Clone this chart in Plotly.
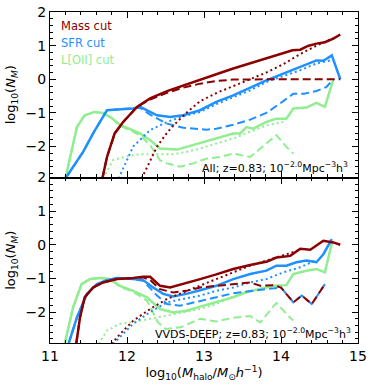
import plotly.graph_objects as go
from plotly.subplots import make_subplots

RED = "#8b0000"
BLUE = "#1e90ff"
GREEN = "#90ee90"

# ---- top panel: All ----
all_mass_solid_x = [11.68, 11.74, 11.84, 11.95, 12.13, 12.30, 12.52, 12.73, 12.95, 13.16, 13.38, 13.60, 13.81, 13.94, 14.03, 14.15, 14.25, 14.35, 14.46, 14.57, 14.68, 14.77]
all_mass_solid_y = [-2.95, -2.31, -1.61, -1.27, -0.82, -0.57, -0.35, -0.18, 0.0, 0.15, 0.32, 0.47, 0.61, 0.70, 0.76, 0.86, 0.88, 0.99, 1.06, 1.10, 1.21, 1.33]
all_mass_dash_x = [11.68, 11.74, 11.84, 11.95, 12.13, 12.30, 12.52, 12.73, 12.95, 13.16, 13.38, 13.55, 13.81, 14.03, 14.25, 14.46, 14.68, 14.77]
all_mass_dash_y = [-2.95, -2.31, -1.61, -1.27, -0.82, -0.60, -0.40, -0.25, -0.13, -0.05, -0.01, 0.0, 0.0, 0.0, 0.0, -0.02, 0.0, 0.0]
all_mass_dot_x = [12.19, 12.30, 12.39, 12.50, 12.60, 12.77, 12.95, 13.17, 13.38, 13.60, 13.82, 14.03, 14.25, 14.46, 14.68]
all_mass_dot_y = [-2.95, -2.45, -2.0, -1.65, -1.38, -1.0, -0.65, -0.40, -0.21, 0.0, 0.21, 0.45, 0.75, 1.0, 1.22]

all_sfr_solid_x = [11.20, 11.43, 11.56, 11.65, 11.74, 11.87, 12.08, 12.17, 12.26, 12.39, 12.56, 12.73, 12.95, 13.16, 13.38, 13.60, 13.81, 14.03, 14.25, 14.46, 14.55, 14.66, 14.77]
all_sfr_solid_y = [-2.95, -2.16, -1.61, -1.27, -0.92, -0.90, -0.87, -0.82, -0.92, -1.07, -1.12, -1.07, -0.92, -0.67, -0.48, -0.25, -0.03, 0.17, 0.37, 0.56, 0.55, 0.71, 0.0]
all_sfr_dash_x = [11.20, 11.43, 11.56, 11.65, 11.74, 11.87, 12.08, 12.17, 12.30, 12.52, 12.73, 12.95, 13.03, 13.16, 13.38, 13.60, 13.81, 14.03, 14.16, 14.30, 14.46, 14.59, 14.68]
all_sfr_dash_y = [-2.95, -2.16, -1.61, -1.27, -0.92, -0.90, -0.87, -0.85, -1.05, -1.32, -1.44, -1.47, -1.50, -1.47, -1.35, -1.20, -1.00, -0.65, -0.43, -0.43, -0.35, -0.23, 0.0]
all_sfr_dot_x = [11.89, 12.0, 12.08, 12.30, 12.52, 12.73, 12.95, 13.16, 13.38, 13.60, 13.81, 14.03, 14.25, 14.46, 14.64]
all_sfr_dot_y = [-2.95, -2.4, -2.0, -1.51, -1.27, -1.10, -0.97, -0.74, -0.54, -0.33, -0.08, 0.09, 0.27, 0.47, 0.56]

all_oii_solid_x = [11.20, 11.35, 11.45, 11.58, 11.69, 11.80, 11.91, 12.05, 12.17, 12.30, 12.43, 12.65, 12.77, 12.95, 13.16, 13.38, 13.47, 13.55, 13.64, 13.81, 13.94, 14.07, 14.16, 14.33, 14.46, 14.57, 14.68]
all_oii_solid_y = [-2.95, -1.42, -1.07, -0.97, -1.0, -1.15, -1.36, -1.50, -1.61, -1.81, -2.06, -2.09, -2.01, -1.91, -1.76, -1.61, -1.61, -1.42, -1.47, -1.27, -1.17, -1.17, -0.87, -0.84, -0.70, -0.82, 0.0]
all_oii_dash_x = [11.20, 11.35, 11.45, 11.58, 11.69, 11.80, 11.91, 12.05, 12.17, 12.30, 12.43, 12.52, 12.69, 12.86, 13.03, 13.21, 13.38, 13.60, 13.81, 13.94, 14.07, 14.16]
all_oii_dash_y = [-2.95, -1.42, -1.07, -0.97, -1.0, -1.15, -1.38, -1.52, -1.66, -1.96, -2.41, -2.50, -2.60, -2.50, -2.36, -2.31, -2.21, -2.31, -1.91, -1.66, -2.01, -2.21]
all_oii_dot_x = [11.69, 11.82, 12.0, 12.17, 12.39, 12.60, 12.77, 12.95, 13.16, 13.38, 13.60, 13.81, 14.03]
all_oii_dot_y = [-2.95, -2.40, -2.29, -2.23, -2.23, -2.23, -2.16, -2.06, -1.91, -1.76, -1.56, -1.37, -1.27]

# ---- bottom panel: VVDS-DEEP ----
vvds_mass_solid_x = [11.34, 11.39, 11.45, 11.56, 11.69, 11.87, 12.08, 12.21, 12.30, 12.43, 12.56, 12.73, 12.95, 13.16, 13.38, 13.60, 13.82, 13.94, 14.12, 14.25, 14.38, 14.55, 14.68, 14.77]
vvds_mass_solid_y = [-2.95, -2.16, -1.56, -1.27, -1.12, -1.02, -0.99, -0.95, -0.95, -1.22, -1.27, -1.17, -1.02, -0.88, -0.72, -0.60, -0.50, -0.38, -0.33, -0.12, -0.15, 0.12, 0.07, 0.0]
vvds_mass_dash_x = [11.34, 11.39, 11.45, 11.56, 11.69, 11.87, 12.08, 12.21, 12.30, 12.43, 12.60, 12.77, 12.95, 13.16, 13.38, 13.60, 13.73, 13.90, 14.00, 14.16, 14.27, 14.40, 14.57]
vvds_mass_dash_y = [-2.95, -2.16, -1.56, -1.27, -1.12, -1.02, -0.99, -0.97, -1.05, -1.32, -1.42, -1.37, -1.27, -1.22, -1.17, -1.12, -1.22, -1.20, -1.27, -1.71, -1.51, -1.76, -1.17]
vvds_mass_dot_x = [11.80, 11.91, 12.08, 12.30, 12.52, 12.73, 12.95, 13.16, 13.38, 13.60, 13.81, 14.03, 14.25]
vvds_mass_dot_y = [-2.95, -2.65, -2.26, -1.91, -1.61, -1.41, -1.22, -1.02, -0.82, -0.62, -0.47, -0.30, -0.15]

vvds_sfr_solid_x = [11.24, 11.35, 11.48, 11.61, 11.74, 11.87, 12.08, 12.21, 12.34, 12.47, 12.60, 12.77, 12.95, 13.16, 13.38, 13.60, 13.81, 13.94, 14.07, 14.20, 14.33, 14.46, 14.55, 14.66]
vvds_sfr_solid_y = [-2.95, -2.16, -1.46, -1.17, -1.05, -0.99, -1.02, -1.05, -1.27, -1.46, -1.54, -1.46, -1.35, -1.22, -1.02, -0.87, -0.77, -0.62, -0.62, -0.52, -0.47, -0.52, -0.28, 0.17]
vvds_sfr_dash_x = [11.24, 11.35, 11.48, 11.61, 11.74, 11.87, 12.08, 12.21, 12.39, 12.52, 12.69, 12.95, 13.16, 13.38, 13.60, 13.81, 14.00, 14.16, 14.27, 14.40, 14.57]
vvds_sfr_dash_y = [-2.95, -2.16, -1.46, -1.17, -1.05, -0.99, -1.02, -1.07, -1.51, -1.76, -1.81, -1.66, -1.56, -1.44, -1.37, -1.32, -1.27, -1.71, -1.51, -1.76, -1.17]
vvds_sfr_dot_x = [11.82, 11.95, 12.08, 12.30, 12.52, 12.73, 12.95, 13.16, 13.38, 13.60, 13.81, 14.03, 14.25, 14.46]
vvds_sfr_dot_y = [-2.95, -2.65, -2.35, -2.0, -1.71, -1.61, -1.51, -1.37, -1.27, -1.12, -1.02, -0.82, -0.67, -0.45]

vvds_oii_solid_x = [11.19, 11.30, 11.41, 11.52, 11.65, 11.78, 11.91, 12.08, 12.26, 12.43, 12.60, 12.77, 12.95, 13.16, 13.38, 13.55, 13.73, 13.90, 14.07, 14.16, 14.33, 14.46, 14.57, 14.66]
vvds_oii_solid_y = [-2.95, -1.86, -1.17, -1.02, -0.99, -1.02, -1.22, -1.37, -1.56, -1.91, -2.01, -1.96, -1.84, -1.71, -1.56, -1.41, -1.32, -1.22, -1.20, -0.87, -0.77, -0.72, -0.82, 0.05]
vvds_oii_dash_x = [11.19, 11.30, 11.41, 11.52, 11.65, 11.78, 11.91, 12.08, 12.26, 12.40, 12.50, 12.70, 12.95, 13.16, 13.38, 13.60, 13.73, 13.94, 14.12, 14.16]
vvds_oii_dash_y = [-2.95, -1.86, -1.17, -1.02, -0.99, -1.02, -1.25, -1.40, -1.66, -2.30, -2.50, -2.45, -2.20, -2.28, -2.17, -2.12, -2.31, -1.73, -2.17, -2.25]
vvds_oii_dot_x = [11.63, 11.74, 11.91, 12.08, 12.30, 12.52, 12.73, 12.95, 13.16, 13.38, 13.60, 13.81, 13.98]
vvds_oii_dot_y = [-2.95, -2.55, -2.35, -2.30, -2.20, -2.10, -2.01, -1.91, -1.76, -1.54, -1.37, -1.27, -1.22]

labels = ["Mass cut", "SFR cut", "L[OII] cut"]
colors = [RED, BLUE, GREEN]

panels = [
    [
        (all_mass_solid_x, all_mass_solid_y, all_mass_dash_x, all_mass_dash_y, all_mass_dot_x, all_mass_dot_y),
        (all_sfr_solid_x, all_sfr_solid_y, all_sfr_dash_x, all_sfr_dash_y, all_sfr_dot_x, all_sfr_dot_y),
        (all_oii_solid_x, all_oii_solid_y, all_oii_dash_x, all_oii_dash_y, all_oii_dot_x, all_oii_dot_y),
    ],
    [
        (vvds_mass_solid_x, vvds_mass_solid_y, vvds_mass_dash_x, vvds_mass_dash_y, vvds_mass_dot_x, vvds_mass_dot_y),
        (vvds_sfr_solid_x, vvds_sfr_solid_y, vvds_sfr_dash_x, vvds_sfr_dash_y, vvds_sfr_dot_x, vvds_sfr_dot_y),
        (vvds_oii_solid_x, vvds_oii_solid_y, vvds_oii_dash_x, vvds_oii_dash_y, vvds_oii_dot_x, vvds_oii_dot_y),
    ],
]

fig = make_subplots(rows=2, cols=1, shared_xaxes=True, vertical_spacing=0)

for row, panel in enumerate(panels, start=1):
    # green drawn first, red last
    for (sx, sy, dx, dy, ox, oy), col in reversed(list(zip(panel, colors))):
        fig.add_trace(go.Scatter(x=ox, y=oy, mode="lines", line=dict(color=col, width=2, dash="2px,3px"), showlegend=False), row=row, col=1)
        fig.add_trace(go.Scatter(x=dx, y=dy, mode="lines", line=dict(color=col, width=2, dash="8px,4px"), showlegend=False), row=row, col=1)
        fig.add_trace(go.Scatter(x=sx, y=sy, mode="lines", line=dict(color=col, width=2.5), showlegend=False), row=row, col=1)

axis_common = dict(
    showline=True, linecolor="black", linewidth=1.2, mirror="allticks",
    ticks="inside", ticklen=6, tickwidth=1.2, tickcolor="black",
    showgrid=False, zeroline=False, automargin=False, ticklabeloverflow="allow",
    tickfont=dict(family="DejaVu Sans", size=14, color="black"),
    minor=dict(ticks="inside", ticklen=3, tickwidth=1, tickcolor="black", dtick=0.2, showgrid=False),
)
fig.update_xaxes(**axis_common, range=[11, 15], tickvals=[11, 12, 13, 14, 15])
fig.update_yaxes(**axis_common, range=[-2.92, 2], tickvals=[-2, -1, 0, 1, 2],
                 ticktext=["\u22122", "\u22121", "0", "1", "2"])
ytitle = "log<sub>10</sub>(<i>N<sub>M</sub></i>)"
fig.update_yaxes(title=dict(text=ytitle, font=dict(family="DejaVu Sans", size=13, color="black"), standoff=6))
fig.update_xaxes(title=dict(text="log<sub>10</sub>(<i>M</i><sub>halo</sub>/<i>M</i><sub>\u2299</sub><i>h</i><sup>\u22121</sup>)",
                            font=dict(family="DejaVu Sans", size=13, color="black"), standoff=4), row=2, col=1)

for lab, col, yy in zip(labels, colors, [0.915, 0.811, 0.707]):
    fig.add_annotation(x=0.03, y=yy, xref="x domain", yref="y domain", text=lab, showarrow=False,
                       xanchor="left", yanchor="middle", font=dict(family="DejaVu Sans", size=11.5, color=col))

fig.add_annotation(x=0.975, y=0.06, xref="x domain", yref="y domain",
                   text="All; z=0.83; 10<sup>\u22122.0</sup>Mpc<sup>\u22123</sup>h<sup>3</sup>",
                   showarrow=False, xanchor="right", yanchor="middle",
                   font=dict(family="DejaVu Sans", size=11, color="black"))
fig.add_annotation(x=0.985, y=0.06, xref="x2 domain", yref="y2 domain",
                   text="VVDS-DEEP; z=0.83; 10<sup>\u22122.0</sup>Mpc<sup>\u22123</sup>h<sup>3</sup>",
                   showarrow=False, xanchor="right", yanchor="middle",
                   font=dict(family="DejaVu Sans", size=11, color="black"))

fig.update_layout(
    width=374, height=387,
    margin=dict(l=50, r=16, t=12, b=44),
    plot_bgcolor="white", paper_bgcolor="white",
    showlegend=False,
)

# drop the default 8px page margin so the figure fills the window
fig.write_html("out.html", config={"displayModeBar": False},
               post_script="document.body.style.margin='0';document.body.style.overflow='hidden';")
